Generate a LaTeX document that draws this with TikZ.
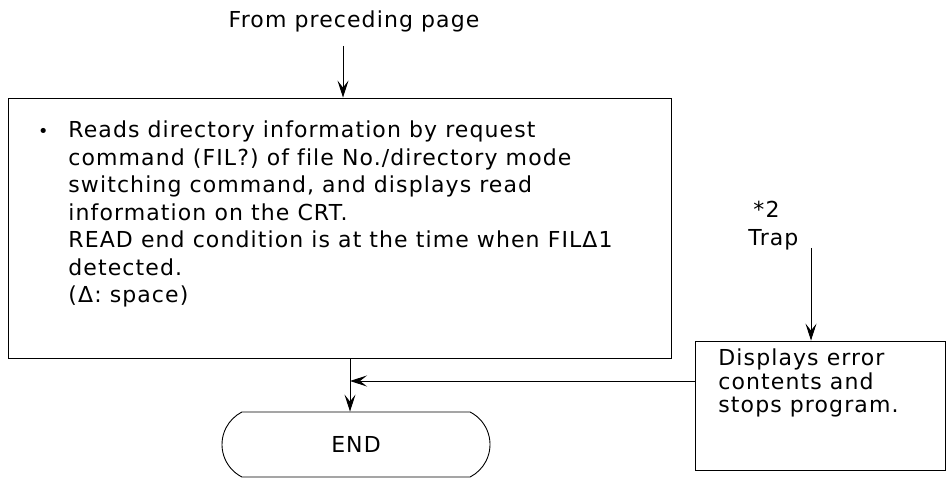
\documentclass[tikz,border=0pt]{standalone}
\usepackage{fontspec}
\setmainfont{DejaVu Sans}[LetterSpace=5,Ligatures=NoCommon]
\usetikzlibrary{arrows.meta,positioning,shapes.misc}

\begin{document}
\begin{tikzpicture}[
  x=1pt,y=-1pt,
  font=\fontsize{22}{27.5}\selectfont,
  line width=0.9pt,
  box/.style={draw,inner sep=0pt},
  txt/.style={align=left,inner sep=0pt},
  term/.style={draw,rounded rectangle,rounded rectangle arc length=126,minimum width=268pt,minimum height=65pt,inner sep=0pt},
  ar/.style={-{Stealth[length=17pt,width=11pt,inset=7pt]}}
]
\useasboundingbox (0,0) rectangle (948,481);

% incoming
\node[txt,anchor=base] (from) at (354,28) {From preceding page};
\coordinate (in) at (343,46);

% read directory
\node[box,minimum width=663pt,minimum height=260pt] (rd) at (339.5,228) {};
\node[txt,anchor=north west] (rdtxt) at (68,120.5) {\llap{\scalebox{0.8}{\textbullet}\hspace{20pt}}Reads directory information by request\\
command (FIL?) of file No./directory mode\\
switching command, and displays read\\
information on the CRT.\\
READ end condition is at the time when FILΔ1\\
detected.\\
(Δ: space)};

% trap
\node[txt,anchor=north west,font=\fontsize{22}{28}\selectfont] (trap) at (748,200.5) {\hspace{5pt}*2\\Trap};
\coordinate (tr) at (811,248);

\node[box,minimum width=250pt,minimum height=129pt] (err) at (820,405.5) {};
\node[txt,anchor=north west,font=\fontsize{22}{23.5}\selectfont] (errtxt) at (718,348.5) {Displays error\\contents and\\stops program.};

% end
\node[term] (endn) at (356,444.5) {END};
\coordinate (j) at (350,381);

\draw[ar] (in) -- (in |- rd.north);
\draw[ar] (tr) -- (tr |- err.north);
\draw[ar] (rd.south -| j) -- (endn.north -| j);
\draw[ar] (err.west |- j) -- (j);
\end{tikzpicture}
\end{document}
